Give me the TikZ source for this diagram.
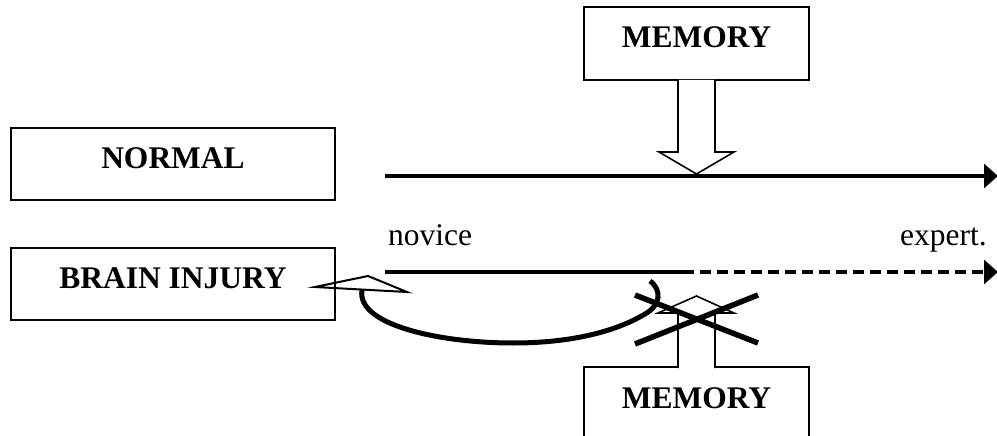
\documentclass[tikz,border=0pt]{standalone}
\usepackage{fontspec}
\setmainfont{Liberation Serif}
\usetikzlibrary{arrows.meta}
\begin{document}
\begin{tikzpicture}[x=1pt,y=-1pt,
  labelbox/.style={draw,line width=2pt,inner sep=0pt,text height=21pt,text depth=12pt,
    font=\fontsize{31.5}{36}\selectfont\bfseries},
  plain/.style={inner sep=0pt,font=\fontsize{31.5}{36}\selectfont},
  axis/.style={line width=3.2pt,-{Triangle[length=14pt,width=24pt]}},
  blockarrow/.style={draw,line width=1.6pt,fill=white,line join=miter},
  cross/.style={line width=5.5pt},
  loop/.style={line width=5pt}]
\useasboundingbox (0,0) rectangle (997,436);

\node[labelbox,minimum width=324pt,minimum height=72pt] (normal) at (173,164) {NORMAL};
\node[labelbox,minimum width=324pt,minimum height=72pt] (brain) at (173,284) {BRAIN INJURY};
\node[labelbox,minimum width=225pt,minimum height=73pt] (memtop) at (696.5,43.5) {MEMORY};
\node[labelbox,minimum width=225pt,minimum height=73pt] (membot) at (696.5,403.5) {MEMORY};

\coordinate (n0) at (385,176);
\coordinate (n1) at (998,176);
\coordinate (b0) at (385,272);
\coordinate (bm) at (683,272);
\coordinate (b1) at (998,272);

\draw[axis] (n0) -- (n1);
\draw[line width=3.2pt] (b0) -- (bm);
\draw[axis,dash pattern=on 11pt off 6pt] (bm) -- (b1);

\node[plain,anchor=base west] (novice) at (388,245) {novice};
\node[plain,anchor=base east] (expert) at (987,245) {expert.};

% block arrow from top memory down to normal line
\draw[blockarrow] (678,80) -- (678,152) -- (659,152) -- (696.5,174) -- (734,152) -- (715,152) -- (715,80);
% block arrow from bottom memory up (crossed out)
\draw[blockarrow] (678,368) -- (678,313) -- (658,313) -- (696.5,296) -- (734,313) -- (715,313) -- (715,368);

% cross
\draw[cross] (635,295) -- (758,343);
\draw[cross] (635,344) -- (758,295);

% curved arrow back to brain injury
\draw[loop] (650,281) .. controls (662,290) and (661,305) .. (645,314)
  .. controls (615,332) and (570,343) .. (513,343)
  .. controls (440,343) and (356,325) .. (362,290);
\draw[line width=2pt,line join=miter] (315,287) -- (368,276) -- (407,292) -- cycle;
\end{tikzpicture}
\end{document}
